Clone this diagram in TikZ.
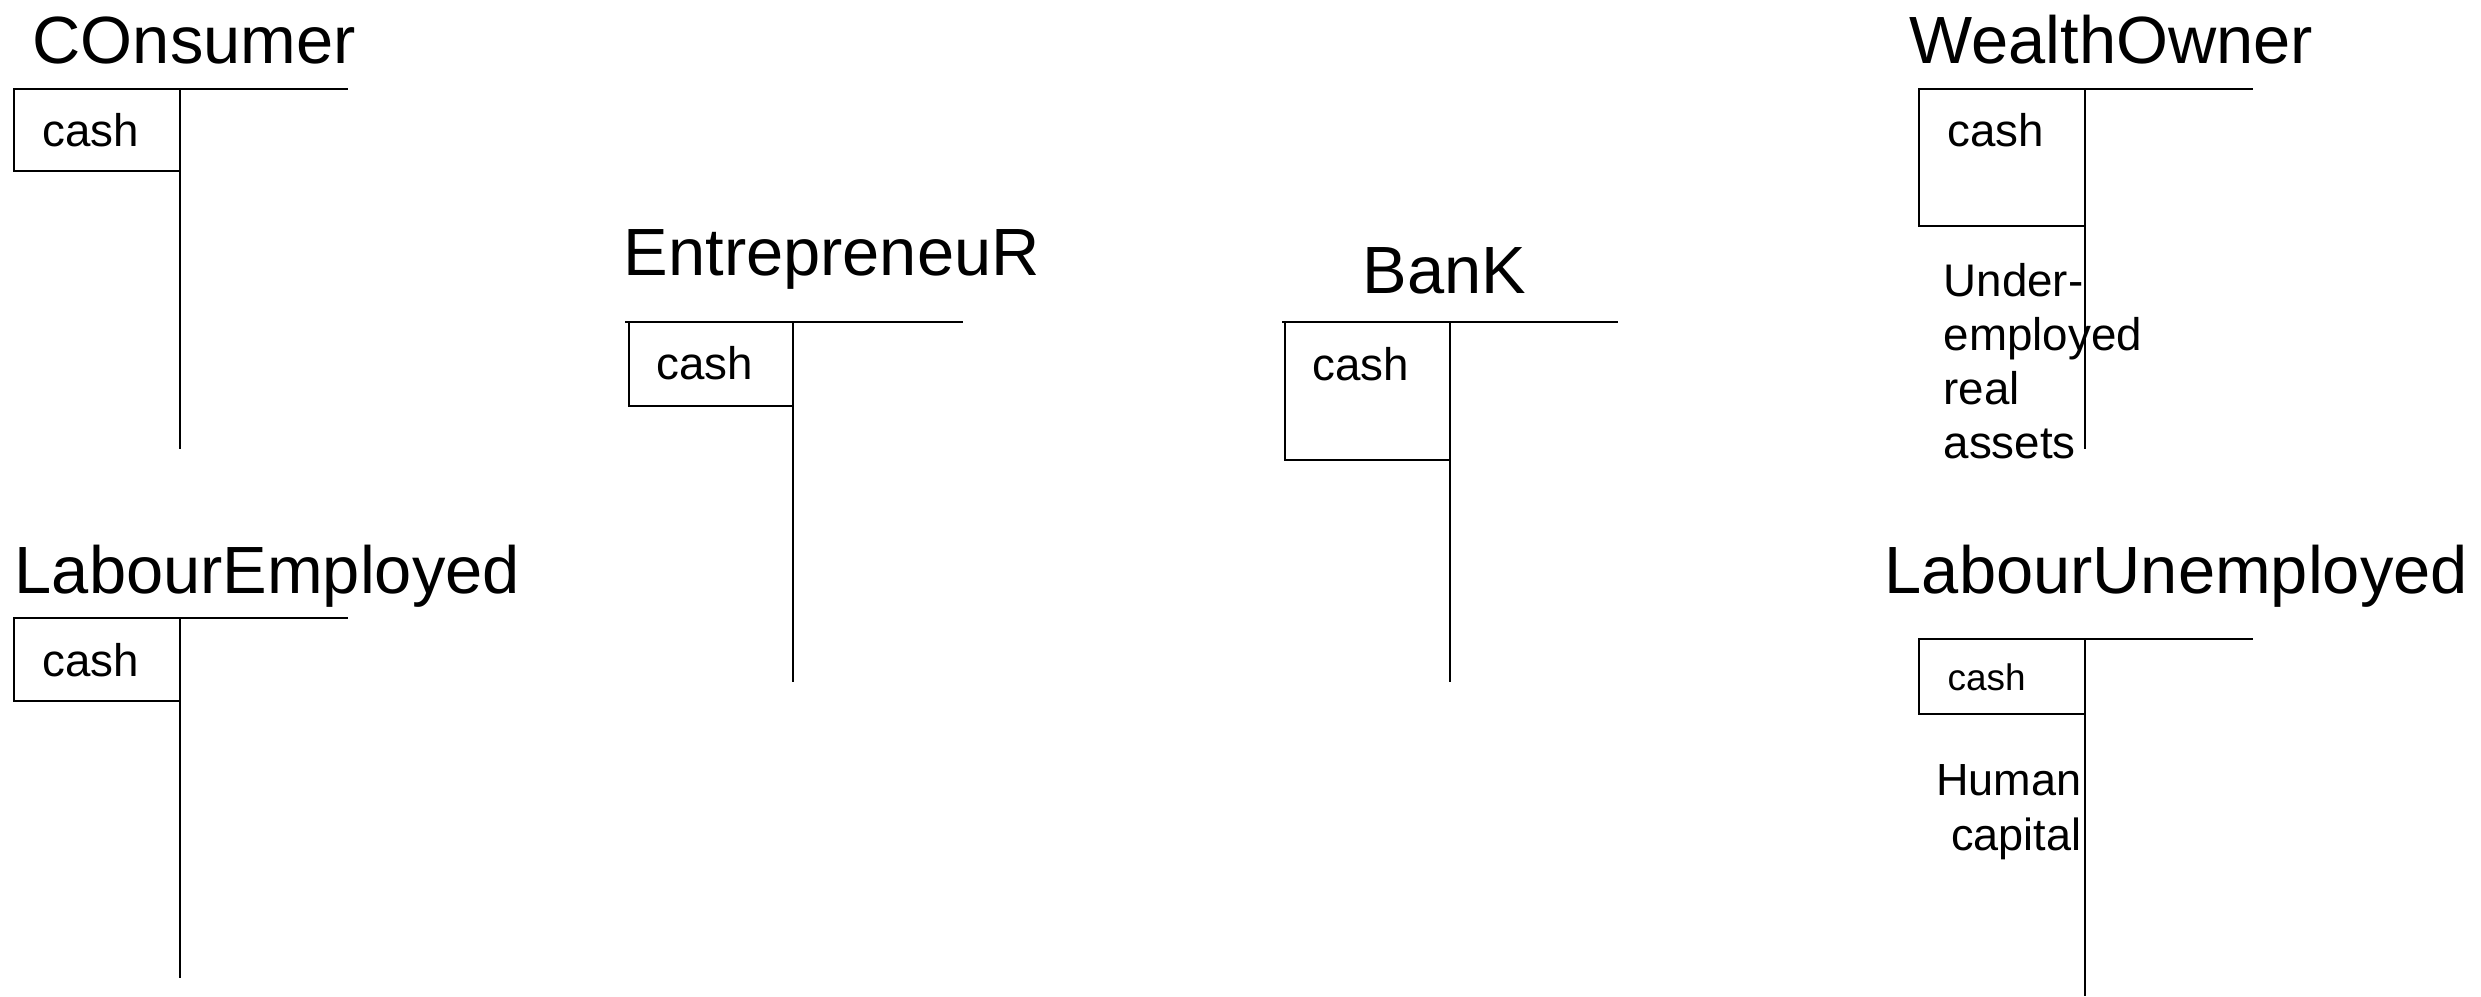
\documentclass[tikz,border=0pt]{standalone}
\usepackage{fontspec}
\setmainfont{Liberation Sans}
\begin{document}
\begin{tikzpicture}[x=0.01cm,y=-0.01cm,
  acctitle/.style={font=\fontsize{19}{23}\selectfont, inner sep=0pt, anchor=base west},
  cashlabel/.style={font=\fontsize{13}{15}\selectfont, inner sep=0pt, anchor=base west},
  smallcash/.style={font=\fontsize{10.5}{12.5}\selectfont, inner sep=0pt, anchor=base west},
  note/.style={inner sep=0pt},
  ledger/.style={line width=0.6pt},
  cashbox/.style={line width=0.5pt}]
\useasboundingbox (0,0) rectangle (2481,996);

% Consumer
\node[acctitle] (consumer) at (32,63) {COnsumer};
\draw[ledger] (13,89) -- (348,89);
\draw[cashbox] (14,89) rectangle (180,171);
\draw[ledger] (180,89) -- (180,449);
\node[cashlabel] (consumer-cash) at (42,146) {cash};

% Entrepreneur
\node[acctitle] (entrepreneur) at (623,275) {EntrepreneuR};
\draw[ledger] (625,322) -- (963,322);
\draw[cashbox] (629,322) rectangle (793,406);
\draw[ledger] (793,322) -- (793,682);
\node[cashlabel] (entrepreneur-cash) at (656,379) {cash};

% Bank
\node[acctitle] (bank) at (1362,293) {BanK};
\draw[ledger] (1282,322) -- (1618,322);
\draw[cashbox] (1285,322) rectangle (1450,460);
\draw[ledger] (1450,322) -- (1450,682);
\node[cashlabel] (bank-cash) at (1312,380) {cash};

% Wealth owner
\node[acctitle] (wealth) at (1909,63) {WealthOwner};
\draw[ledger] (1918,89) -- (2253,89);
\draw[cashbox] (1919,89) rectangle (2085,226);
\draw[ledger] (2085,89) -- (2085,449);
\node[cashlabel] (wealth-cash) at (1947,146) {cash};
\node[note, anchor=base west, font=\fontsize{13}{15.4}\selectfont] (wealth-assets) at (1943,296)
  {\begin{tabular}[t]{@{}l@{}}Under-\\employed\\real\\assets\end{tabular}};

% Employed labour
\node[acctitle] (labemp) at (14,593) {LabourEmployed};
\draw[ledger] (13,618) -- (348,618);
\draw[cashbox] (14,618) rectangle (180,701);
\draw[ledger] (180,618) -- (180,978);
\node[cashlabel] (labemp-cash) at (42,676) {cash};

% Unemployed labour
\node[acctitle] (labunemp) at (1884,593) {LabourUnemployed};
\draw[ledger] (1918,639) -- (2253,639);
\draw[cashbox] (1919,639) rectangle (2085,714);
\draw[ledger] (2085,639) -- (2085,996);
\node[smallcash] (labunemp-cash) at (1947,690) {cash};
\node[note, anchor=base east, font=\fontsize{12.8}{15.65}\selectfont] (labunemp-human) at (2082,795)
  {\begin{tabular}[t]{@{}r@{}}Human\\capital\end{tabular}};
\end{tikzpicture}
\end{document}
